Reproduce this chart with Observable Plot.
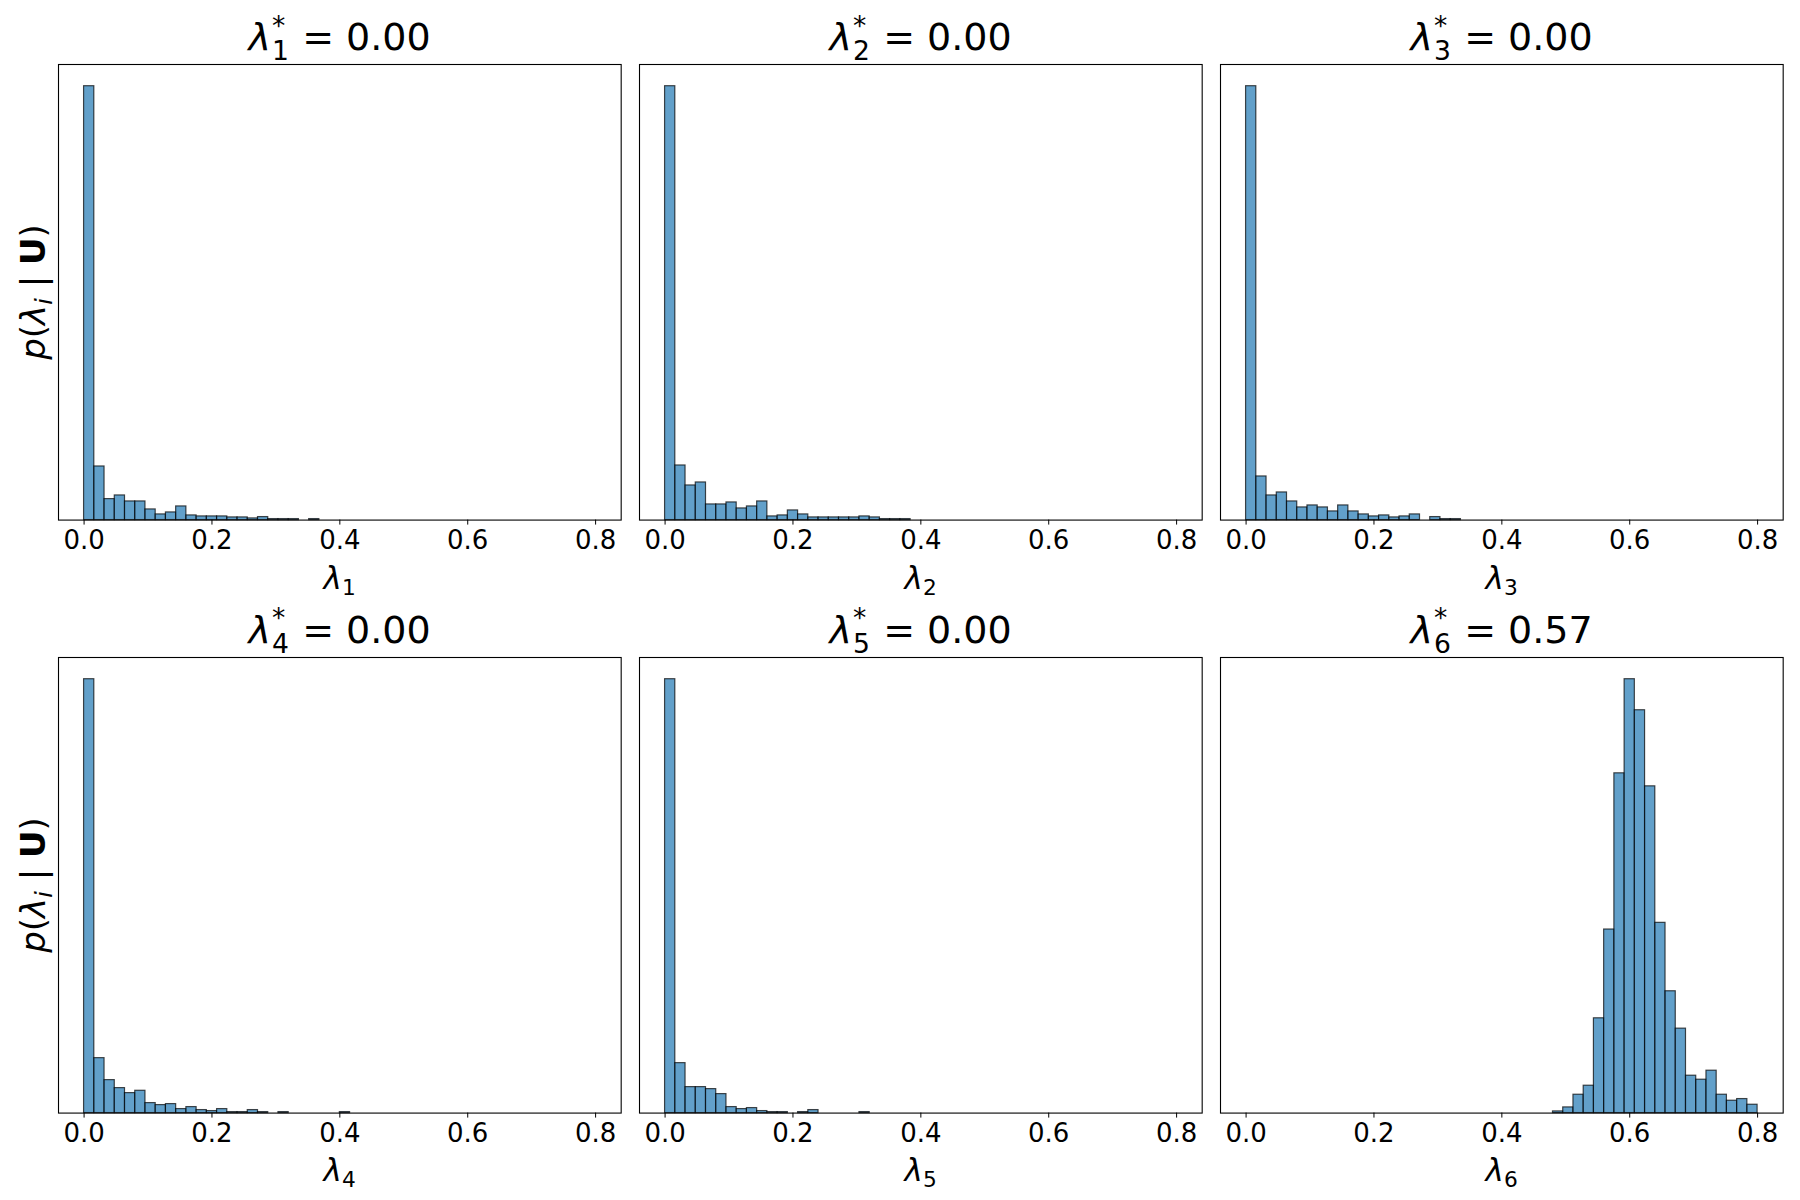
<!DOCTYPE html>
<html>
<head>
<meta charset="utf-8">
<script src="https://cdn.jsdelivr.net/npm/d3@7"></script>
<script src="https://cdn.jsdelivr.net/npm/@observablehq/plot@0.6"></script>
<style>
  html, body { margin: 0; padding: 0; background: #fff; }
  #root { position: relative; width: 1800px; height: 1200px; background: #fff; font-family: "DejaVu Sans", sans-serif; color: #000; overflow: hidden; }
  .panel { position: absolute; }
  .lbl { position: absolute; white-space: nowrap; line-height: 1; transform: translate(-50%, -50%); font-family: "DejaVu Sans", sans-serif; }
  .title { font-size: 38px; }
  .xlab { font-size: 31px; }
  .ylab { font-size: 34px; transform: translate(-50%, -50%) rotate(-90deg); }
  .it { font-style: italic; }
  .ss { display: inline-block; position: relative; width: 0.5em; height: 1em; vertical-align: baseline; }
  .ss .sup, .ss .sub { position: absolute; left: 0.03em; font-size: 0.7em; font-style: normal; line-height: 1; }
  .ss .sup { top: 0.02em; }
  .ss .sub { bottom: -0.55em; }
  .sb { font-size: 0.7em; position: relative; top: 0.28em; font-style: normal; }
  .sbi { font-size: 0.7em; position: relative; top: 0.28em; font-style: italic; }
</style>
</head>
<body>
<div id="root"></div>
<script>
// ---------- data (bar heights per bin; arbitrary units) ----------
const N_BINS = 50;
const BIN_WIDTH = 0.016;
const binStarts = d3.range(N_BINS).map(i => +(i * BIN_WIDTH).toFixed(3));

const lambda1 = [1303,161,63,74,56,56,32,17,23,41,14,11,11,11,8,8,5,9,3,3,3,0,3,0,0,0,0,0,0,0,0,0,0,0,0,0,0,0,0,0,0,0,0,0,0,0,0,0,0,0];
const lambda2 = [1303,164,104,113,47,47,53,35,41,56,11,14,29,17,8,8,8,8,8,11,8,3,3,3,0,0,0,0,0,0,0,0,0,0,0,0,0,0,0,0,0,0,0,0,0,0,0,0,0,0];
const lambda3 = [1303,131,74,83,56,38,44,38,26,44,26,17,11,14,8,11,17,0,9,3,3,0,0,0,0,0,0,0,0,0,0,0,0,0,0,0,0,0,0,0,0,0,0,0,0,0,0,0,0,0];
const lambda4 = [1303,165,99,75,60,67,30,24,27,12,18,9,6,12,3,3,9,3,0,3,0,0,0,0,0,3,0,0,0,0,0,0,0,0,0,0,0,0,0,0,0,0,0,0,0,0,0,0,0,0];
const lambda5 = [1303,150,78,78,72,57,18,12,15,6,3,3,0,3,9,0,0,0,0,3,0,0,0,0,0,0,0,0,0,0,0,0,0,0,0,0,0,0,0,0,0,0,0,0,0,0,0,0,0,0];
const lambda6 = [0,0,0,0,0,0,0,0,0,0,0,0,0,0,0,0,0,0,0,0,0,0,0,0,0,0,0,0,0,0,5,17,55,82,284,550,1018,1300,1207,979,570,365,253,112,100,127,55,37,42,25];

const seriesList = [lambda1, lambda2, lambda3, lambda4, lambda5, lambda6];
const panelIndex = ["1", "2", "3", "4", "5", "6"];
const trueValues = ["0.00", "0.00", "0.00", "0.00", "0.00", "0.57"];
const xTicks = [0, 0.2, 0.4, 0.6, 0.8];
const xDomain = [-0.04, 0.84];

// ---------- layout ----------
const FRAME_W = 562.7, FRAME_H = 455.6;
const colLeft = [58.3, 639.3, 1220.3];
const rowTop = [64.3, 656.7];
const M = {l: 10, r: 10, t: 10, b: 50};

const root = document.getElementById("root");

function addLabel(cls, html, x, y) {
  const d = document.createElement("div");
  d.className = "lbl " + cls;
  d.innerHTML = html;
  d.style.left = x + "px";
  d.style.top = y + "px";
  root.appendChild(d);
}

seriesList.forEach((vals, p) => {
  const r = Math.floor(p / 3), c = p % 3;
  const data = binStarts.map((x0, i) => ({x1: x0, x2: +(x0 + BIN_WIDTH).toFixed(3), y: vals[i]}));
  const ymax = d3.max(vals);
  const chart = Plot.plot({
    width: FRAME_W + M.l + M.r,
    height: FRAME_H + M.t + M.b,
    marginLeft: M.l, marginRight: M.r, marginTop: M.t, marginBottom: M.b,
    style: {fontFamily: "DejaVu Sans, sans-serif", fontSize: "26px", color: "#000", background: "transparent", overflow: "visible"},
    x: {domain: xDomain, ticks: xTicks, tickFormat: d3.format(".1f"), tickSize: 5, tickPadding: 5, label: null},
    y: {domain: [0, ymax * 1.05], axis: null},
    marks: [
      Plot.rectY(data.filter(d => d.y > 0), {x1: "x1", x2: "x2", y: "y", fill: "#1f77b4", fillOpacity: 0.7, stroke: "#000", strokeOpacity: 0.7, strokeWidth: 1.2}),
      Plot.frame({stroke: "#000", strokeWidth: 1.1})
    ]
  });
  const wrap = document.createElement("div");
  wrap.className = "panel";
  wrap.style.left = (colLeft[c] - M.l) + "px";
  wrap.style.top = (rowTop[r] - M.t) + "px";
  wrap.appendChild(chart);
  root.appendChild(wrap);

  const cx = colLeft[c] + FRAME_W / 2;
  const k = panelIndex[p];
  addLabel("title", `<span class="it">λ</span><span class="ss"><span class="sup">*</span><span class="sub">${k}</span></span> = ${trueValues[p]}`, cx, rowTop[r] - 30);
  addLabel("xlab", `<span class="it">λ</span><span class="sb">${k}</span>`, cx, rowTop[r] + FRAME_H + 58);
  if (c === 0) {
    addLabel("ylab", `<span class="it">p</span>(<span class="it">λ</span><span class="sbi">i</span> | <b>U</b>)`, 33, rowTop[r] + FRAME_H / 2);
  }
});
</script>
</body>
</html>
